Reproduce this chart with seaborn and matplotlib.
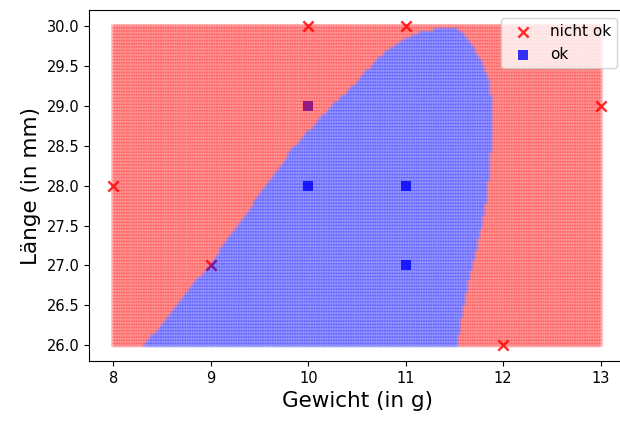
import numpy as np
import pandas as pd
import matplotlib
matplotlib.use("Agg")
import matplotlib.pyplot as plt
import seaborn as sns

# Training samples
gewicht = [10, 11, 8, 13, 12, 9, 10, 10, 11, 11]
laenge = [30, 30, 28, 29, 26, 27, 29, 28, 28, 27]
klasse = ["nicht ok"] * 6 + ["ok"] * 4

# Decision boundary of the "ok" region: left and right edge (weight) per length
links_y = [26.0, 26.5, 27.0, 27.5, 28.0, 28.5, 29.0, 29.3, 29.5, 29.7, 29.8, 29.9, 29.97]
links_x = [8.32, 8.65, 8.98, 9.28, 9.56, 9.86, 10.24, 10.50, 10.64, 10.80, 10.94, 11.08, 11.32]
rechts_y = [26.0, 26.2, 26.45, 26.75, 27.0, 27.2, 27.5, 27.8, 28.2, 28.5, 28.8, 29.1,
            29.35, 29.5, 29.65, 29.8, 29.9, 29.97]
rechts_x = [11.53, 11.56, 11.59, 11.64, 11.69, 11.73, 11.78, 11.83, 11.86, 11.88, 11.89, 11.88,
            11.85, 11.80, 11.74, 11.66, 11.60, 11.53]

# Evaluation mesh over the feature space
gx, gy = np.meshgrid(np.arange(8.0, 13.0001, 0.025), np.arange(26.0, 30.0001, 0.04))
gx, gy = gx.ravel(), gy.ravel()
lo = np.interp(gy, links_y, links_x)
hi = np.interp(gy, rechts_y, rechts_x)
ok = (gx >= lo) & (gx <= hi) & (gy <= 29.975)
mesh = pd.DataFrame({"gewicht": gx, "laenge": gy,
                     "klasse": np.where(ok, "ok", "nicht ok")})

train = pd.DataFrame({"gewicht": gewicht, "laenge": laenge, "klasse": klasse})

fig = plt.figure(figsize=(6.2, 4.23), dpi=100)
ax = fig.add_axes([89 / 620, 62 / 423, 536 / 620, 350.7 / 423])

# Training points first, the translucent decision mesh on top of them
nok = train[train.klasse == "nicht ok"]
okd = train[train.klasse == "ok"]
sns.scatterplot(x=nok.gewicht, y=nok.laenge, marker="x", color="red", s=55,
                alpha=0.8, linewidth=1.8, label="nicht ok", ax=ax)
sns.scatterplot(x=okd.gewicht, y=okd.laenge, marker="s", color="blue", s=60,
                alpha=0.8, linewidth=0, label="ok", ax=ax)

sns.scatterplot(data=mesh, x="gewicht", y="laenge", hue="klasse",
                palette={"nicht ok": "red", "ok": "blue"}, s=12, alpha=0.26,
                linewidth=0, legend=False, ax=ax)

ax.set_xlim(7.75, 13.25)
ax.set_ylim(25.8, 30.2)
ax.set_xticks([8, 9, 10, 11, 12, 13])
ax.set_yticks(np.arange(26.0, 30.01, 0.5))
ax.set_yticklabels([f"{v:.1f}" for v in np.arange(26.0, 30.01, 0.5)])
ax.tick_params(labelsize=10.5)
ax.set_xlabel("Gewicht (in g)", fontsize=15.5)
ax.set_ylabel("Länge (in mm)", fontsize=15.5)
ax.legend(loc="upper right", fontsize=11)

fig.savefig("out.png", dpi=100)
